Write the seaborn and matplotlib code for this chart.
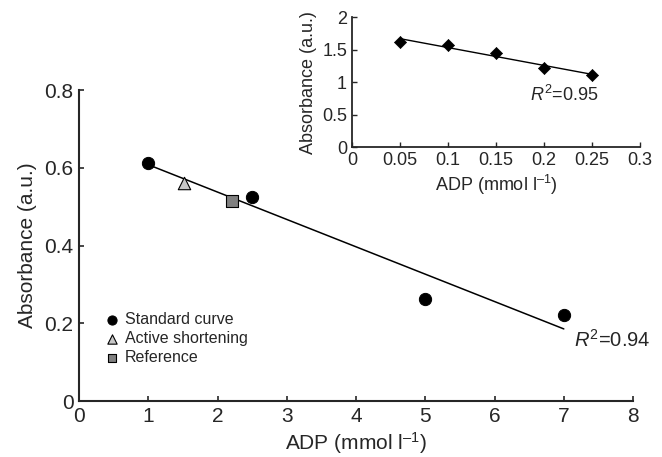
import numpy as np
import pandas as pd
import matplotlib
matplotlib.use('Agg')
import matplotlib.pyplot as plt
import seaborn as sns

#%% Data

# main panel
std_adp = [1.0, 2.5, 5.0, 7.0]
std_abs = [0.612, 0.525, 0.263, 0.222]
act_adp = [1.52]
act_abs = [0.562]
ref_adp = [2.21]
ref_abs = [0.515]
main_r2 = 0.94

# inset
ins_adp = [0.05, 0.10, 0.15, 0.20, 0.25]
ins_abs = [1.62, 1.58, 1.455, 1.215, 1.115]
ins_r2 = 0.95

main_xticks = [0, 1, 2, 3, 4, 5, 6, 7, 8]
main_yticks = [0, 0.2, 0.4, 0.6, 0.8]
ins_xticks = [0, 0.05, 0.1, 0.15, 0.2, 0.25, 0.3]
ins_yticks = [0, 0.5, 1, 1.5, 2]

#%% Style

sns.set_style('ticks')
plt.rcParams['font.family'] = ['Liberation Sans', 'DejaVu Sans']
plt.rcParams['mathtext.fontset'] = 'custom'
plt.rcParams['mathtext.rm'] = 'Liberation Sans'
plt.rcParams['mathtext.it'] = 'Liberation Sans:italic'
plt.rcParams['xtick.direction'] = 'in'
plt.rcParams['ytick.direction'] = 'in'

fig = plt.figure(figsize=(6.62, 4.57), dpi=100)
ax = fig.add_axes([0.1193, 0.1225, 0.837, 0.6805])
axi = fig.add_axes([0.5317, 0.678, 0.435, 0.284])

df_std = pd.DataFrame({'ADP': std_adp, 'Abs': std_abs})
df_act = pd.DataFrame({'ADP': act_adp, 'Abs': act_abs})
df_ref = pd.DataFrame({'ADP': ref_adp, 'Abs': ref_abs})
df_ins = pd.DataFrame({'ADP': ins_adp, 'Abs': ins_abs})

#%% Main panel

sns.regplot(data=df_std, x='ADP', y='Abs', ax=ax, scatter=False, ci=None,
            truncate=True, color='black', line_kws={'lw': 1.1})
sns.scatterplot(data=df_std, x='ADP', y='Abs', ax=ax, marker='o', s=78,
                color='black', edgecolor='black', label='Standard curve', zorder=3)
sns.scatterplot(data=df_act, x='ADP', y='Abs', ax=ax, marker='^', s=80,
                color='#c8c8c8', edgecolor='black', linewidth=0.8,
                label='Active shortening', zorder=3)
sns.scatterplot(data=df_ref, x='ADP', y='Abs', ax=ax, marker='s', s=72,
                color='#808080', edgecolor='black', linewidth=0.8,
                label='Reference', zorder=3)

ax.set_xlim(0, 8)
ax.set_ylim(0, 0.8)
ax.set_xticks(main_xticks)
ax.set_yticks(main_yticks)
ax.set_xticklabels([str(t) for t in main_xticks])
ax.set_yticklabels(['0', '0.2', '0.4', '0.6', '0.8'])
ax.tick_params(labelsize=15, width=1.2, length=3.5, pad=4)
ax.set_xlabel('ADP (mmol l$^{\u20131}$)', fontsize=15, labelpad=3)
ax.set_ylabel('Absorbance (a.u.)', fontsize=15, labelpad=5)
sns.despine(ax=ax)
for s in ['left', 'bottom']:
    ax.spines[s].set_linewidth(1.5)

ax.text(7.14, 0.157, '$R^2$=%.2f' % main_r2, fontsize=14.5, ha='left', va='center')

leg = ax.legend(loc='upper left', bbox_to_anchor=(0.045, 0.285), frameon=False,
                fontsize=11.5, handlelength=1.0, handletextpad=0.3,
                labelspacing=0.25, borderaxespad=0, borderpad=0,
                markerscale=0.75)

#%% Inset

sns.regplot(data=df_ins, x='ADP', y='Abs', ax=axi, scatter=False, ci=None,
            truncate=True, color='black', line_kws={'lw': 1.0})
sns.scatterplot(data=df_ins, x='ADP', y='Abs', ax=axi, marker='D', s=38,
                color='black', edgecolor='black', zorder=3)
axi.set_xlim(0, 0.3)
axi.set_ylim(0, 2)
axi.set_xticks(ins_xticks)
axi.set_yticks(ins_yticks)
axi.set_xticklabels(['0', '0.05', '0.1', '0.15', '0.2', '0.25', '0.3'])
axi.set_yticklabels(['0', '0.5', '1', '1.5', '2'])
axi.tick_params(labelsize=13, width=1.0, length=3.5, pad=3.5)
axi.set_xlabel('ADP (mmol l$^{\u20131}$)', fontsize=13, labelpad=3)
axi.set_ylabel('Absorbance (a.u.)', fontsize=13, labelpad=4)
sns.despine(ax=axi)
for s in ['left', 'bottom']:
    axi.spines[s].set_linewidth(1.3)
axi.text(0.185, 0.80, '$R^2$=%.2f' % ins_r2, fontsize=13, ha='left', va='center')

fig.savefig('out.png', dpi=100)
